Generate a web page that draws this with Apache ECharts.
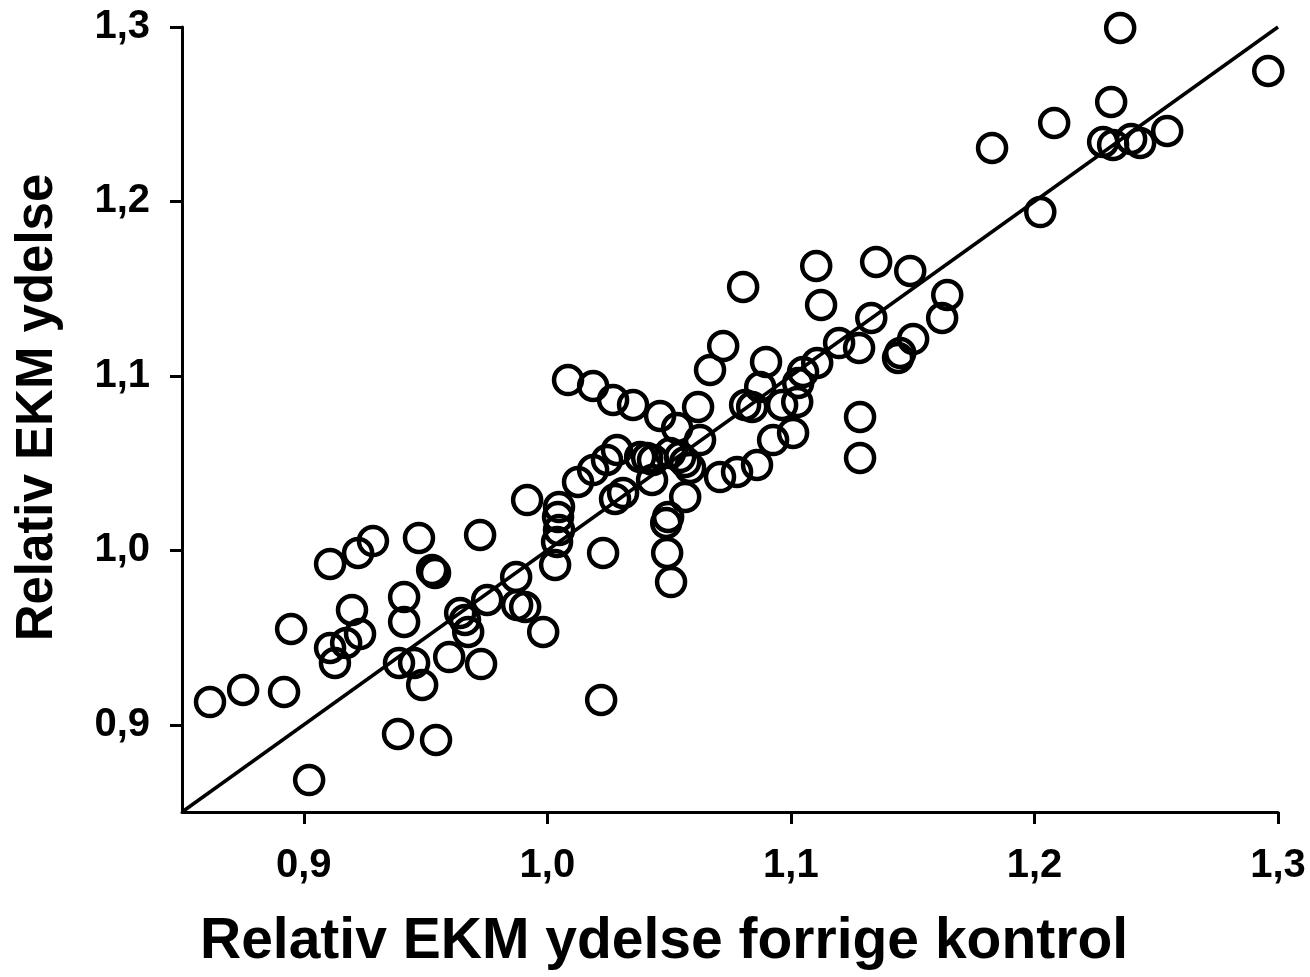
<!DOCTYPE html>
<html>
<head>
<meta charset="utf-8">
<script src="https://cdn.jsdelivr.net/npm/echarts@6/dist/echarts.min.js"></script>
<style>
html,body{margin:0;padding:0;background:#fff;}
#chart{width:1310px;height:977px;}
</style>
</head>
<body>
<div id="chart"></div>
<script>
// Relative EKM yield at previous control (x) vs. current (y)
var prevControl = [
0.8615,0.8751,0.8919,0.8948,0.9022,0.9108,0.9223,0.9284,0.9473,0.9527,
0.9539,0.9198,0.9108,0.9128,0.9174,0.9231,0.9412,0.9412,0.9391,0.9453,
0.9486,0.9597,0.9387,0.9543,0.9642,0.9662,0.9675,0.9728,0.9724,0.9753,
1.0085,1.0188,1.0270,1.0352,1.0463,1.0286,1.0245,1.0188,1.0126,1.0278,
0.9917,1.0048,1.0044,1.0048,1.0040,1.0032,1.0229,0.9872,0.9876,0.9909,
0.9983,1.0221,1.0492,1.0488,1.0508,1.0381,1.0410,1.0434,1.0504,1.0545,
1.0566,1.0586,1.0430,1.0311,1.0566,1.0496,1.0619,1.0533,1.0627,1.0668,
1.0709,1.0779,1.0861,1.0927,1.1009,1.0874,1.0841,1.0812,1.0804,1.0722,
1.0898,1.0964,1.1026,1.1030,1.1050,1.1108,1.1104,1.1124,1.1198,1.1280,
1.1284,1.1284,1.1330,1.1350,1.1490,1.1502,1.1449,1.1440,1.1642,1.1621,
1.2352,1.2960,1.2315,1.2081,1.1826,1.2545,1.2282,1.2323,1.2397,1.2434,
1.2024
];
var currentYield = [
0.9130,0.9199,0.9188,0.9549,0.8683,0.9922,0.9985,1.0053,1.0071,0.9887,
0.9870,0.9658,0.9440,0.9354,0.9469,0.9520,0.9732,0.9589,0.9354,0.9354,
0.9228,0.9388,0.8947,0.8913,0.9641,0.9601,0.9532,0.9348,1.0088,0.9715,
1.0976,1.0942,1.0862,1.0833,1.0770,1.0575,1.0518,1.0460,1.0392,1.0294,
1.0288,1.0248,1.0191,1.0116,1.0048,0.9916,0.9985,0.9847,0.9687,0.9675,
0.9532,0.9142,0.9985,1.0157,0.9818,1.0535,1.0529,1.0518,1.0558,1.0535,
1.0506,1.0472,1.0403,1.0329,1.0306,1.0191,1.0822,1.0701,1.0632,1.1034,
1.0420,1.0449,1.0489,1.0632,1.0673,1.0936,1.0822,1.0833,1.1510,1.1171,
1.1080,1.0833,1.0850,1.0959,1.1022,1.1074,1.1630,1.1406,1.1188,1.1160,
1.0764,1.0529,1.1332,1.1653,1.1601,1.1211,1.1131,1.1103,1.1464,1.1332,
1.2994,1.2748,1.2570,1.2450,1.2306,1.2404,1.2341,1.2324,1.2358,1.2335,
1.1939
];
var identityLine = [0.85, 1.3];
var tickValues = [0.9, 1.0, 1.1, 1.2, 1.3];
var axisMin = 0.85, axisMax = 1.3;
var xTitle = 'Relativ EKM ydelse forrige kontrol';
var yTitle = 'Relativ EKM ydelse';

var points = prevControl.map(function (x, i) { return [x, currentYield[i]]; });
var linePts = identityLine.map(function (v) { return [v, v]; });
function fmt(v) { return v.toFixed(1).replace('.', ','); }

var font = 'Liberation Sans, Arial, sans-serif';
var axisCommon = {
  type: 'value', min: axisMin, max: axisMax,
  splitLine: { show: false },
  axisLine: { show: true, onZero: false, lineStyle: { color: '#000', width: 3 } },
  axisTick: { show: true, inside: false, length: 12, customValues: tickValues, lineStyle: { color: '#000', width: 3 } }
};
var labelStyle = { customValues: tickValues, formatter: fmt, color: '#000', fontFamily: font, fontWeight: 'bold', fontSize: 40 };

var chart = echarts.init(document.getElementById('chart'), null, { renderer: 'canvas' });
chart.setOption({
  animation: false,
  backgroundColor: '#fff',
  grid: { left: 182, right: 32, top: 27, bottom: 165, containLabel: false, outerBoundsMode: 'none' },
  xAxis: Object.assign({}, axisCommon, {
    name: xTitle, nameLocation: 'middle', nameGap: 102,
    nameTextStyle: { color: '#000', fontFamily: font, fontWeight: 'bold', fontSize: 57, padding: [0, 132, 0, 0] },
    axisLabel: Object.assign({}, labelStyle, { margin: 34 })
  }),
  yAxis: Object.assign({}, axisCommon, {
    name: yTitle, nameLocation: 'middle', nameGap: 119, nameRotate: 90,
    nameTextStyle: { color: '#000', fontFamily: font, fontWeight: 'bold', fontSize: 51, padding: [0, 0, 0, 24] },
    axisLabel: Object.assign({}, labelStyle, { margin: 32 })
  }),
  series: [
    {
      type: 'line', data: linePts, symbol: 'none', silent: true,
      lineStyle: { color: '#000', width: 3.5 }, z: 1
    },
    {
      type: 'scatter', data: points, symbol: 'circle', symbolSize: 28,
      itemStyle: { color: 'rgba(0,0,0,0)', borderColor: '#000', borderWidth: 4.5, opacity: 1 }, z: 2
    }
  ]
});
</script>
</body>
</html>
